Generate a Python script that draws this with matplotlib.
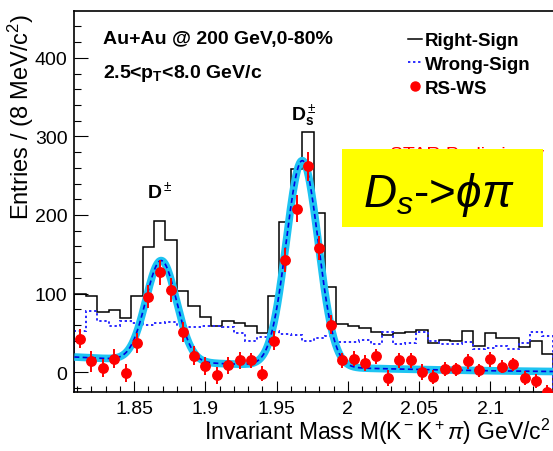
import numpy as np
import matplotlib
matplotlib.use('Agg')
import matplotlib.pyplot as plt
from matplotlib.lines import Line2D
from matplotlib.patches import Rectangle

plt.rcParams['font.family'] = ['Liberation Sans', 'DejaVu Sans']
plt.rcParams['mathtext.fontset'] = 'custom'
plt.rcParams['mathtext.rm'] = 'Liberation Sans'
plt.rcParams['mathtext.it'] = 'Liberation Sans:italic'
plt.rcParams['mathtext.bf'] = 'Liberation Sans:bold'

# binning: 8 MeV bins starting at 1.808 GeV
bin_lo = 1.808
bin_width = 0.008
n_bins = 42

# Right-Sign histogram (black)
right_sign = [99.4, 96.5, 76.2, 79.1, 68.6, 97.3, 159.5, 191.7, 168.4, 103.6,
              83.8, 70.6, 59.2, 65.5, 62.6, 58.4, 49.9, 97.3, 190.5, 258.0,
              306.0, 203.0, 108.7, 61.3, 59.2, 55.8, 50.8, 47.4, 50.0, 50.8,
              54.0, 36.8, 41.4, 39.4, 52.8, 33.8, 50.0, 43.2, 43.2, 31.7,
              40.0, 23.2]

# Wrong-Sign histogram (blue dotted)
wrong_sign = [52.0, 78.3, 65.5, 59.2, 65.5, 62.6, 60.5, 62.0, 63.5, 59.2,
              57.1, 59.2, 59.2, 57.0, 50.0, 39.4, 45.0, 52.0, 48.0, 47.4,
              40.0, 43.0, 46.0, 38.9, 38.0, 41.4, 36.0, 50.8, 36.0, 37.6,
              50.8, 40.0, 36.0, 36.0, 38.0, 29.6, 30.5, 33.8, 29.6, 37.6,
              50.8, 46.5]

# RS-WS points (red)
rs_ws = [42.3, 13.5, 5.0, 17.0, -1.0, 37.0, 96.0, 127.0, 105.0, 51.6,
         21.0, 7.6, -4.3, 8.4, 15.0, 15.0, -2.0, 40.0, 143.0, 208.0,
         262.0, 158.0, 60.5, 14.8, 17.0, 11.8, 20.0, -7.6, 14.8, 14.8,
         0.0, -6.3, 3.4, 3.4, 13.5, 2.0, 16.0, 7.0, 10.0, -7.6,
         -11.4, -25.0]

# fit: two gaussians (D+-, Ds) on a 2nd order polynomial background
peak_mean = [1.869, 1.968]
peak_sigma = [0.0107, 0.0112]
peak_amp = [128.0, 262.0]
bkg_pars = [19.0, -93.0, 114.6]   # in (m - 1.81)

y_min, y_max = -25, 460

edges = bin_lo + bin_width * np.arange(n_bins + 1)
centers = 0.5 * (edges[:-1] + edges[1:])
err = np.sqrt(np.array(right_sign) + np.array(wrong_sign))

x_fit = np.linspace(edges[0], edges[-1], 800)
t = x_fit - 1.81
y_fit = bkg_pars[0] + bkg_pars[1] * t + bkg_pars[2] * t ** 2
for mu, sg, a in zip(peak_mean, peak_sigma, peak_amp):
    y_fit = y_fit + a * np.exp(-0.5 * ((x_fit - mu) / sg) ** 2)

fig = plt.figure(figsize=(5.53, 4.52), dpi=100)
ax = fig.add_axes([0.1344, 0.1312, 0.8656, 0.8429])

ax.stairs(right_sign, edges, baseline=y_min, color='black', lw=1.1, zorder=2)
ax.stairs(wrong_sign, edges, baseline=y_min, color='#2a2aff', lw=1.4,
          ls=(0, (1.2, 1.4)), zorder=2)
ax.plot(x_fit, y_fit, color='#1ec4f2', lw=5.5, solid_capstyle='butt', zorder=3)
ax.plot(x_fit, y_fit, color='#0000e0', lw=1.2, ls=(0, (3, 2)), zorder=3)
ax.errorbar(centers, rs_ws, yerr=err, fmt='o', color='red', ms=6.8,
            elinewidth=1.4, capsize=0, zorder=4)

ax.set_xlim(edges[0], edges[-1])
ax.set_ylim(y_min, y_max)
ax.set_xticks([1.85, 1.9, 1.95, 2.0, 2.05, 2.1])
ax.set_xticklabels(['1.85', '1.9', '1.95', '2', '2.05', '2.1'])
ax.set_xticks(np.arange(1.81, 2.145, 0.01), minor=True)
ax.set_yticks([0, 100, 200, 300, 400])
ax.set_yticks(np.arange(-20, 460, 20), minor=True)
ax.tick_params(which='both', direction='in', top=False, right=False,
               labelsize=14, width=0.8)
ax.tick_params(axis='x', which='major', length=8, pad=6)
ax.tick_params(axis='x', which='minor', length=4)
ax.tick_params(axis='y', which='major', length=10, pad=5)
ax.tick_params(axis='y', which='minor', length=5)
for s in ['left', 'bottom', 'top']:
    ax.spines[s].set_linewidth(1.2)
ax.spines['right'].set_visible(False)

# texts
ax.text(0.06, 0.915, 'Au+Au @ 200 GeV,0-80%', transform=ax.transAxes,
        fontsize=14, fontweight='bold', va='baseline')
ax.text(0.06, 0.826, r'2.5<p$_\mathbf{T}$<8.0 GeV/c', transform=ax.transAxes,
        fontsize=14, fontweight='bold', va='baseline')
ax.text(1.8682, 230, r'D$^\pm$', fontsize=14, fontweight='bold',
        ha='center', va='center')
ax.text(1.969, 328, r'D$_\mathbf{s}^\pm$', fontsize=14, fontweight='bold',
        ha='center', va='center')

handles = [Line2D([], [], color='black', lw=1.1),
           Line2D([], [], color='#2a2aff', lw=1.4, ls=(0, (1.2, 1.4))),
           Line2D([], [], color='red', marker='o', ms=6.5, ls='none')]
ax.legend(handles, ['Right-Sign', 'Wrong-Sign', 'RS-WS'], loc='upper left',
          bbox_to_anchor=(0.697, 0.944), frameon=False,
          prop={'weight': 'bold', 'size': 13.5}, handlelength=0.75,
          handletextpad=0.15, labelspacing=0.35, borderpad=0,
          borderaxespad=0)

ax.text(0.6595, 0.611, 'STAR Preliminary', transform=ax.transAxes,
        color='red', fontsize=14, va='baseline', zorder=4)
ax.add_patch(Rectangle((0.5586, 0.433), 0.4211, 0.204, transform=ax.transAxes,
                       facecolor='#ffff00', edgecolor='none', zorder=5))
ax.text(0.6037, 0.488, r'$D_s$->$\phi\pi$', transform=ax.transAxes,
        fontsize=33, va='baseline', zorder=6)

fig.text(21 / 553, 1 - 14 / 452, 'Entries / (8 MeV/c$^2$)', rotation=90,
         ha='center', va='top', fontsize=17)
fig.text(551 / 553, 1 - 440 / 452, r'Invariant Mass M(K$^-$K$^+\pi$) GeV/c$^2$',
         ha='right', va='baseline', fontsize=16.5)

fig.savefig('out.png', dpi=100)
